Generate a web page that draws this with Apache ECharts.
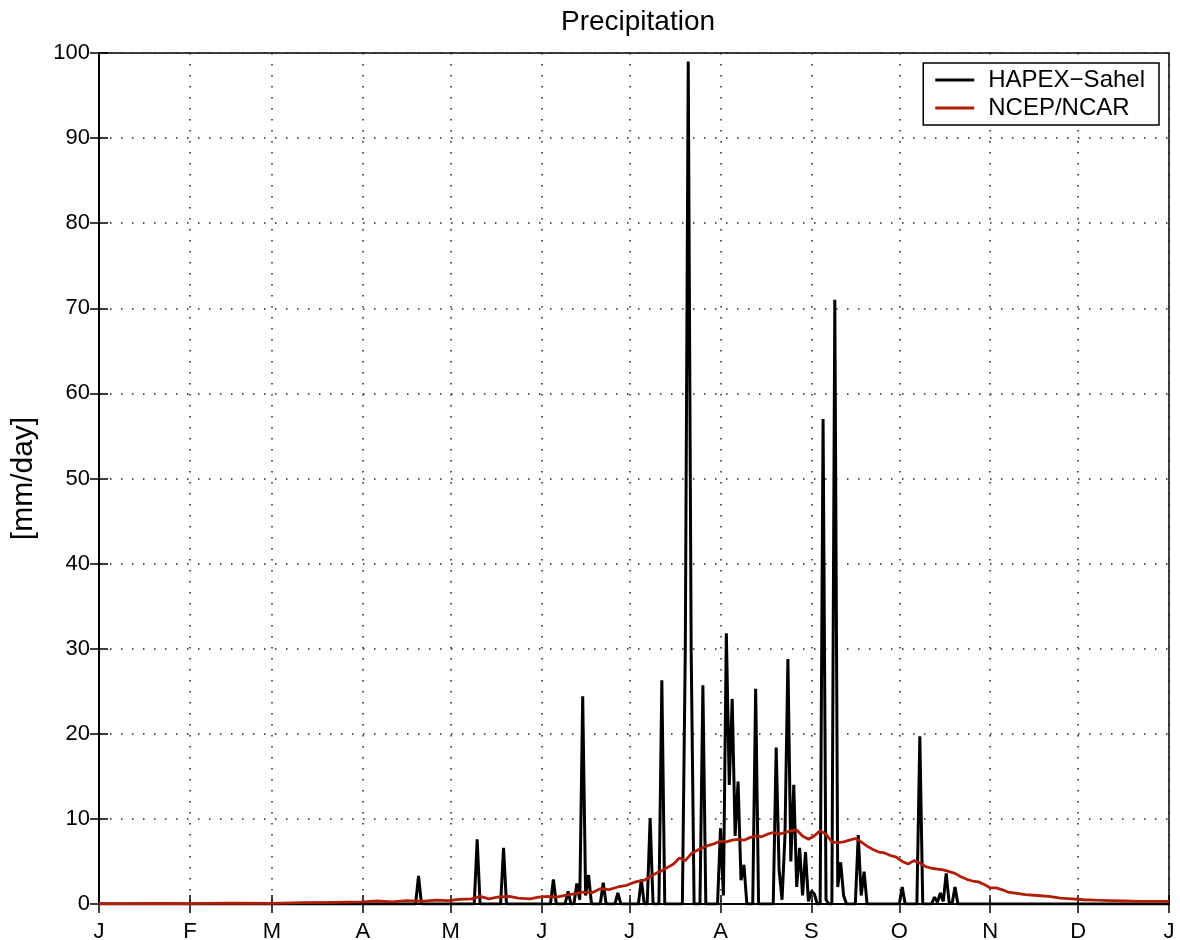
<!DOCTYPE html>
<html>
<head>
<meta charset="utf-8">
<script src="https://cdn.jsdelivr.net/npm/echarts@6/dist/echarts.min.js"></script>
<style>
html,body{margin:0;padding:0;background:#fff;}
#chart{width:1180px;height:940px;}
</style>
</head>
<body>
<div id="chart"></div>
<script>
// Month boundaries (day of year) and their labels
const monthDays = [0, 31, 59, 90, 120, 151, 181, 212, 243, 273, 304, 334, 365];
const monthLabels = ['J', 'F', 'M', 'A', 'M', 'J', 'J', 'A', 'S', 'O', 'N', 'D', 'J'];
const yTicks = [0, 10, 20, 30, 40, 50, 60, 70, 80, 90, 100];

// HAPEX-Sahel daily precipitation [day, mm/day]
const hapex = [
  [0,0],[108,0],[109,3.3],[110,0],
  [128,0],[129,7.6],[130,0],
  [137,0],[138,6.6],[139,0],
  [154,0],[155,2.9],[156,0],
  [159,0],[160,1.5],[161,0],
  [162,0],[163,2.4],[164,0.5],[165,24.4],[166,1.0],[167,3.4],[168,0],
  [171,0],[172,2.5],[173,0],
  [176,0],[177,1.3],[178,0],
  [184,0],[185,2.9],[186,0],
  [187,0],[188,10.1],[189,0],
  [191,0],[192,26.3],[193,0],
  [199,0],[200,30],[201,99],[202,30],[203,0],
  [205,0],[206,25.7],[207,0],
  [211,0],[212,8.9],[213,1.0],[214,31.8],[215,14],[216,24.1],[217,8],[218,14.4],[219,2.8],[220,4.6],[221,0],
  [223,0],[224,25.3],[225,0],
  [230,0],[231,18.4],[232,4],[233,0.5],[234,8],[235,28.8],[236,5],[237,14.0],[238,2],[239,6.6],[240,1],[241,6.1],[242,0.3],[243,1.5],[244,1.2],[245,0],
  [246,0],[247,57],[248,0.5],[249,0],[250,0],[251,71],[252,2],[253,4.9],[254,1],[255,0],
  [258,0],[259,8.1],[260,1],[261,3.8],[262,0],
  [273,0],[274,2.0],[275,0],
  [279,0],[280,19.7],[281,0],
  [284,0],[285,0.8],[286,0.2],[287,1.3],[288,0.3],[289,3.6],[290,0.2],[291,0],[292,2.0],[293,0],[365,0]
];

// NCEP/NCAR reanalysis precipitation [day, mm/day]
const ncep = [
  [0,0.05],[10,0.05],[20,0.08],[31,0.05],[45,0.1],[59,0.08],[70,0.15],[80,0.2],[90,0.25],
  [95,0.35],[100,0.25],[105,0.4],[110,0.3],[115,0.45],[119,0.4],[123,0.55],[127,0.6],[130,0.9],
  [133,0.6],[136,0.8],[140,0.9],[143,0.7],[147,0.6],[150,0.8],[153,0.9],[156,0.8],[159,1.0],
  [162,1.2],[165,1.4],[168,1.3],[171,1.8],[174,1.7],[177,2.0],[180,2.2],[183,2.6],[186,2.8],
  [188,3.2],[190,3.6],[192,3.9],[194,4.3],[196,4.7],[198,5.4],[200,5.1],[202,5.9],[204,6.3],
  [206,6.6],[208,6.9],[210,7.1],[212,7.4],[214,7.3],[216,7.5],[218,7.6],[220,7.5],[222,7.8],
  [224,8.0],[226,7.9],[228,8.2],[230,8.4],[232,8.2],[234,8.4],[236,8.6],[238,8.7],[240,8.0],
  [242,7.6],[244,8.0],[246,8.6],[248,8.2],[250,7.3],[252,7.2],[254,7.3],[256,7.5],[258,7.7],
  [260,7.3],[262,6.8],[264,6.4],[266,6.1],[268,6.0],[270,5.7],[272,5.5],[274,5.0],[276,4.7],
  [278,5.1],[280,4.8],[282,4.4],[284,4.2],[286,4.1],[288,4.0],[290,3.8],[292,3.6],[294,3.2],
  [296,2.9],[298,2.7],[300,2.6],[302,2.3],[304,1.9],[306,1.9],[308,1.7],[310,1.4],[312,1.3],
  [316,1.1],[320,1.0],[324,0.9],[328,0.7],[332,0.6],[336,0.5],[340,0.45],[345,0.4],[350,0.35],
  [355,0.3],[360,0.3],[365,0.3]
];

const FONT = '"Liberation Sans", Arial, Helvetica, sans-serif';
const dotted = {color: '#222', width: 1.5, type: [1.5, 9.5]};

const chart = echarts.init(document.getElementById('chart'), null, {renderer: 'canvas'});
chart.setOption({
  backgroundColor: '#fff',
  animation: false,
  title: {
    text: 'Precipitation', left: 556, top: 3,
    textStyle: {fontFamily: FONT, fontSize: 28, fontWeight: 'normal', color: '#000'}
  },
  legend: {
    orient: 'vertical', right: 21, top: 63,
    backgroundColor: '#fff', borderColor: '#000', borderWidth: 1.5,
    padding: [5, 14, 5, 12], itemWidth: 39, itemHeight: 3, itemGap: 4, icon: 'rect',
    textStyle: {fontFamily: FONT, fontSize: 24, color: '#000', padding: [0, 0, 0, 9]},
    data: ['HAPEX\u2212Sahel', 'NCEP/NCAR']
  },
  grid: {left: 99, right: 11, top: 53, bottom: 36, show: true, borderColor: '#000', borderWidth: 1.5,
    backgroundColor: 'transparent', outerBoundsMode: 'none', containLabel: false},
  xAxis: [{
    type: 'value', min: 0, max: 365, position: 'bottom',
    axisLine: {show: true, lineStyle: {color: '#000', width: 1.5}},
    axisTick: {show: true, inside: true, length: 9, customValues: monthDays, lineStyle: {color: '#000', width: 1.5}},
    axisLabel: {show: true, customValues: monthDays, margin: 17, color: '#000', fontFamily: FONT, fontSize: 22,
      formatter: v => monthLabels[monthDays.indexOf(Math.round(v))] || ''},
    splitLine: {show: true, lineStyle: dotted}
  }, {
    type: 'value', min: 0, max: 365, position: 'top',
    axisLine: {show: true, lineStyle: {color: '#000', width: 1.5}},
    axisTick: {show: true, inside: true, length: 9, customValues: monthDays, lineStyle: {color: '#000', width: 1.5}},
    axisLabel: {show: false}, splitLine: {show: false}
  }],
  yAxis: [{
    type: 'value', min: 0, max: 100, interval: 10, position: 'left',
    name: '[mm/day]', nameLocation: 'middle', nameGap: 60,
    nameTextStyle: {fontFamily: FONT, fontSize: 30, color: '#000'},
    axisLine: {show: true, lineStyle: {color: '#000', width: 1.5}},
    axisTick: {show: true, inside: true, length: 9, lineStyle: {color: '#000', width: 1.5}},
    axisLabel: {margin: 9, color: '#000', fontFamily: FONT, fontSize: 22, padding: [3, 0, 0, 0]},
    splitLine: {show: true, lineStyle: dotted}
  }, {
    type: 'value', min: 0, max: 100, interval: 10, position: 'right',
    axisLine: {show: true, lineStyle: {color: '#000', width: 1.5}},
    axisTick: {show: true, inside: true, length: 9, lineStyle: {color: '#000', width: 1.5}},
    axisLabel: {show: false}, splitLine: {show: false}
  }],
  series: [{
    name: 'HAPEX\u2212Sahel', type: 'line', data: hapex, showSymbol: false, symbol: 'none',
    lineStyle: {color: '#000', width: 3}, itemStyle: {color: '#000'}, z: 3
  }, {
    name: 'NCEP/NCAR', type: 'line', data: ncep, showSymbol: false, symbol: 'none',
    lineStyle: {color: '#b01e0a', width: 2.8}, itemStyle: {color: '#b01e0a'}, z: 4
  }]
});
</script>
</body>
</html>
